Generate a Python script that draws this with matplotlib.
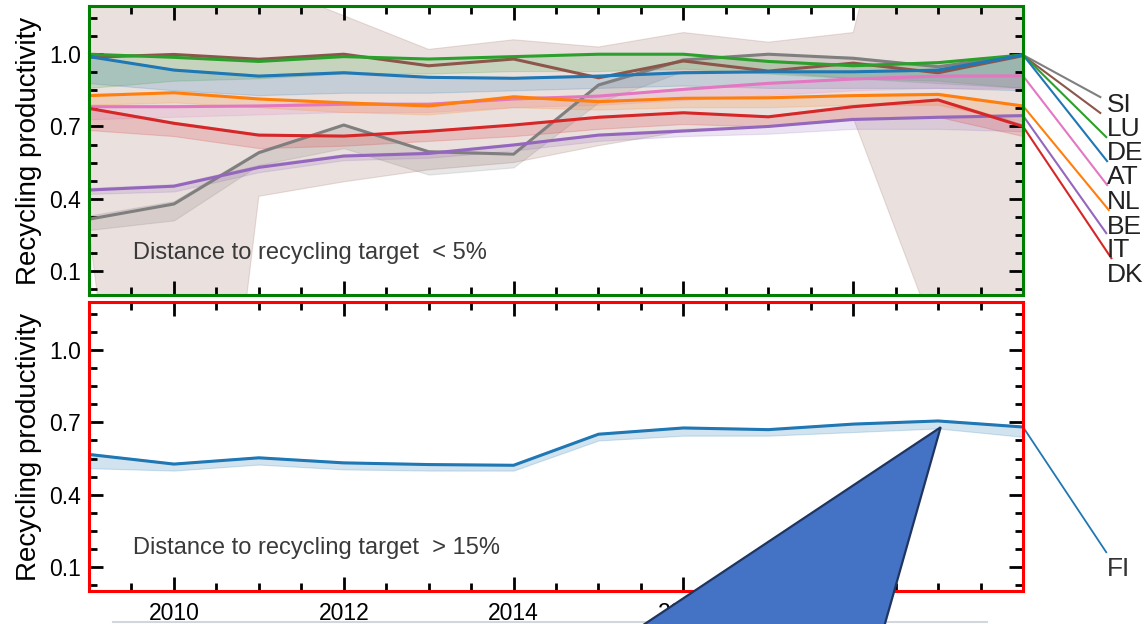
import numpy as np
import matplotlib
matplotlib.use('Agg')
from matplotlib import pyplot as plt
from matplotlib.ticker import MultipleLocator, AutoMinorLocator, FixedLocator
from matplotlib.patches import Polygon
from matplotlib.lines import Line2D

plt.rcParams['font.family'] = ['Liberation Sans', 'DejaVu Sans']

years = np.arange(2009, 2021)

# countries with distance to target < 5%
countries = ['SI', 'LU', 'DE', 'AT', 'NL', 'BE', 'IT', 'DK']
colors = ['#7f7f7f', '#8c564b', '#2ca02c', '#1f77b4', '#e377c2', '#ff7f0e', '#9467bd', '#d62728']

si = [0.315, 0.378, 0.591, 0.706, 0.595, 0.585, 0.872, 0.976, 1.0, 0.983, 0.948, 0.997]
lu = [0.987, 0.999, 0.979, 1.0, 0.952, 0.98, 0.902, 0.972, 0.93, 0.963, 0.923, 0.994]
de = [1.0, 0.987, 0.97, 0.99, 0.98, 0.99, 1.0, 1.0, 0.97, 0.952, 0.965, 0.997]
at = [0.99, 0.934, 0.909, 0.923, 0.904, 0.90, 0.909, 0.923, 0.927, 0.927, 0.934, 0.997]
nl = [0.782, 0.782, 0.785, 0.792, 0.792, 0.814, 0.826, 0.854, 0.879, 0.897, 0.909, 0.91]
be = [0.828, 0.84, 0.814, 0.798, 0.785, 0.823, 0.803, 0.817, 0.819, 0.828, 0.833, 0.785]
it = [0.436, 0.452, 0.53, 0.577, 0.588, 0.623, 0.664, 0.681, 0.70, 0.729, 0.738, 0.745]
dk = [0.775, 0.713, 0.664, 0.66, 0.68, 0.706, 0.738, 0.757, 0.74, 0.782, 0.81, 0.70]

si_lo = [0.27, 0.31, 0.54, 0.61, 0.50, 0.53, 0.80, 0.93, 0.93, 0.90, 0.88, 0.86]
si_hi = [0.33, 0.39, 0.60, 0.71, 0.60, 0.59, 0.88, 0.98, 1.0, 0.99, 0.95, 1.0]
lu_lo = [0.27, -2.5, 0.41, 0.47, 0.52, 0.55, 0.62, 0.68, 0.70, 0.735, -0.195, -0.3]
lu_hi = [1.7, 1.7, 1.30, 1.16, 1.02, 1.06, 1.03, 1.09, 1.05, 1.09, 2.47, 2.5]
de_lo = [0.86, 0.89, 0.90, 0.92, 0.92, 0.93, 0.93, 0.94, 0.92, 0.90, 0.89, 0.86]
de_hi = [1.0, 0.99, 0.975, 0.995, 0.985, 0.995, 1.0, 1.0, 0.975, 0.96, 0.97, 1.0]
at_lo = [0.88, 0.85, 0.83, 0.84, 0.84, 0.85, 0.86, 0.87, 0.86, 0.86, 0.86, 0.85]
at_hi = [0.99, 0.94, 0.915, 0.93, 0.91, 0.905, 0.915, 0.93, 0.93, 0.93, 0.94, 1.0]
nl_lo = [0.73, 0.74, 0.75, 0.76, 0.76, 0.78, 0.79, 0.81, 0.83, 0.85, 0.86, 0.86]
nl_hi = [0.79, 0.79, 0.79, 0.80, 0.80, 0.82, 0.83, 0.86, 0.885, 0.90, 0.915, 0.915]
be_lo = [0.79, 0.80, 0.78, 0.76, 0.75, 0.78, 0.77, 0.78, 0.78, 0.79, 0.79, 0.72]
be_hi = [0.835, 0.845, 0.82, 0.805, 0.79, 0.83, 0.81, 0.82, 0.825, 0.835, 0.84, 0.79]
it_lo = [0.42, 0.43, 0.51, 0.56, 0.57, 0.60, 0.64, 0.66, 0.67, 0.69, 0.69, 0.68]
it_hi = [0.445, 0.46, 0.54, 0.585, 0.595, 0.63, 0.67, 0.69, 0.705, 0.735, 0.745, 0.75]
dk_lo = [0.685, 0.66, 0.61, 0.62, 0.64, 0.66, 0.69, 0.71, 0.70, 0.73, 0.74, 0.66]
dk_hi = [0.78, 0.72, 0.67, 0.665, 0.685, 0.71, 0.745, 0.76, 0.745, 0.79, 0.815, 0.71]

top_series = [si, lu, de, at, nl, be, it, dk]
top_lo = [si_lo, lu_lo, de_lo, at_lo, nl_lo, be_lo, it_lo, dk_lo]
top_hi = [si_hi, lu_hi, de_hi, at_hi, nl_hi, be_hi, it_hi, dk_hi]

# countries with distance to target > 15%
fi = [0.567, 0.527, 0.553, 0.532, 0.525, 0.522, 0.651, 0.677, 0.67, 0.693, 0.706, 0.681]
fi_lo = [0.51, 0.50, 0.525, 0.505, 0.50, 0.50, 0.625, 0.645, 0.645, 0.66, 0.675, 0.64]
fi_hi = [0.572, 0.532, 0.558, 0.537, 0.53, 0.527, 0.656, 0.682, 0.675, 0.698, 0.711, 0.686]

labelled_years = [2010, 2012, 2014, 2016, 2018]

# label placement (data units, beyond the right edge)
label_y = [0.789, 0.689, 0.59, 0.49, 0.386, 0.282, 0.187, 0.083]
label_end = [(2020.91, 0.822), (2020.91, 0.756), (2020.98, 0.656), (2020.99, 0.556),
             (2020.99, 0.457), (2021.01, 0.353), (2020.98, 0.257), (2021.04, 0.153)]

fig = plt.figure(figsize=(11.46, 6.24), dpi=100)
ax1 = fig.add_axes([0.0777, 0.5272, 0.815, 0.4631])
ax2 = fig.add_axes([0.0777, 0.0529, 0.815, 0.4631])

for ax, col in [(ax1, 'green'), (ax2, 'red')]:
    ax.set_xlim(2009, 2020)
    ax.set_ylim(0.0, 1.2)
    ax.xaxis.set_major_locator(FixedLocator(labelled_years))
    ax.xaxis.set_minor_locator(MultipleLocator(0.5))
    ax.yaxis.set_major_locator(MultipleLocator(0.3, offset=0.1))
    ax.yaxis.set_minor_locator(AutoMinorLocator(4))
    ax.tick_params(which='both', direction='in', top=True, right=True, width=2, labelsize=16.5)
    ax.tick_params(which='major', length=10, pad=6)
    ax.tick_params(which='minor', length=5.5)
    ax.tick_params(axis='x', pad=8)
    for s in ax.spines.values():
        s.set_color(col)
        s.set_linewidth(2.2)
    ax.set_ylabel('Recycling productivity', fontsize=20, labelpad=5)

ax1.tick_params(axis='x', labelbottom=False)

for vals, lo, hi, c in zip(top_series, top_lo, top_hi, colors):
    ax1.fill_between(years, lo, hi, color=c, alpha=0.18, linewidth=0.8)
for vals, c in zip(top_series, colors):
    ax1.plot(years, vals, color=c, lw=2.2)

for name, vals, c, ty, (ex, ey) in zip(countries, top_series, colors, label_y, label_end):
    ax1.plot([years[-1], ex], [vals[-1], ey], color=c, lw=1.5, clip_on=False)
    ax1.text(2020.99, ty, name, fontsize=19, color='#222222', ha='left', va='center',
             clip_on=False)

ax1.text(0.047, 0.145, 'Distance to recycling target  < 5%', transform=ax1.transAxes,
         fontsize=17, color='#3a3a3a', va='center')

ax2.fill_between(years, fi_lo, fi_hi, color='#1f77b4', alpha=0.2, linewidth=0.8)
ax2.plot(years, fi, color='#1f77b4', lw=2.2)
ax2.plot([years[-1], 2020.98], [fi[-1], 0.161], color='#1f77b4', lw=1.3, clip_on=False)
ax2.text(2020.99, 0.09, 'FI', fontsize=19, color='#333333', ha='left', va='center',
         clip_on=False)
ax2.text(0.047, 0.149, 'Distance to recycling target  > 15%', transform=ax2.transAxes,
         fontsize=17, color='#3a3a3a', va='center')

# thin grey rule under the tick labels and the callout shape on top
fig.add_artist(Line2D([113 / 1146, 987 / 1146], [0.0032, 0.0032], color='#d3d6dc', lw=1.5,
                      transform=fig.transFigure))
tip = fig.transFigure.inverted().transform(ax2.transData.transform((2019.03, 0.68)))
tri = Polygon([tip, (640 / 1146, -0.005), (884 / 1146, -0.005)], closed=True,
              facecolor='#4472c4', edgecolor='#1f3560', lw=1.6,
              transform=fig.transFigure, zorder=10)
fig.add_artist(tri)

fig.savefig('out.png', dpi=100)
